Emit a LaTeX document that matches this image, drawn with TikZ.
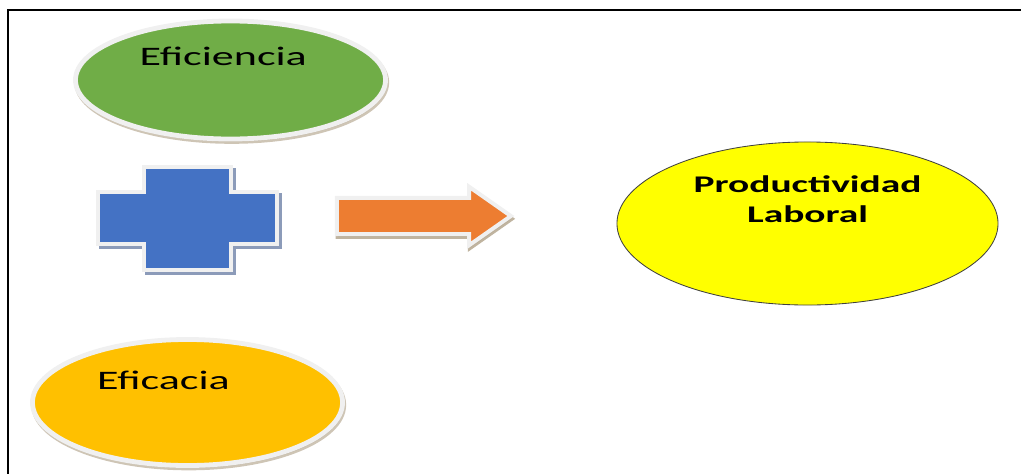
\documentclass[tikz,border=0pt]{standalone}
\usepackage{fontspec}
\newfontfamily\wfont{Carlito}[FakeStretch=1.65]
\usetikzlibrary{shapes.geometric, shapes.arrows, shadows}
\definecolor{VD}{RGB}{112,173,71}
\definecolor{AZ}{RGB}{68,114,196}
\definecolor{NJ}{RGB}{237,125,49}
\definecolor{OR}{RGB}{255,192,0}
\definecolor{AM}{RGB}{255,255,0}
\definecolor{RB}{RGB}{240,240,240}
\definecolor{SH}{RGB}{185,172,150}
\definecolor{SA}{RGB}{140,155,185}

\begin{document}
\begin{tikzpicture}[x=0.025cm, y=-0.025cm,
  elp/.style={ellipse, fill=#1, draw=RB, line width=0.12cm, inner sep=0pt,
              drop shadow={shadow xshift=0.03cm, shadow yshift=-0.06cm,
                           fill=SH, draw=SH, line width=0.12cm, opacity=0.7}},
  txt/.style={font=\wfont\fontsize{19}{23}\selectfont, text=black},
  btxt/.style={font=\wfont\bfseries\fontsize{17}{21.3}\selectfont, text=black, align=center},
  rim/.style={draw=RB, line width=0.1cm, line join=miter}
]
\useasboundingbox (0,0) rectangle (1021,474);

% marco
\draw[line width=0.05cm] (8,474) -- (8,10) -- (1021,10);

% elipses
\node[elp=VD, minimum width=7.75cm, minimum height=2.95cm,
      label={[txt, xshift=-0.18cm, yshift=0.6cm]center:Eficiencia}] (efi) at (230.5,80) {};
\node[elp=OR, minimum width=7.75cm, minimum height=3.15cm,
      label={[txt, xshift=-0.6cm, yshift=0.55cm]center:Eficacia}] (efa) at (187.5,402.5) {};
\node[ellipse, fill=AM, draw=black!75, line width=0.6pt, inner sep=0pt,
      minimum width=9.525cm, minimum height=4.075cm,
      label={[btxt, yshift=0.6cm]center:Productividad\\Laboral}] (plab) at (807.5,223.5) {};

% cruz
\draw[rim, draw=SA, fill=SA, shift={(2.5,3)}]
  (144,167) -- (231,167) -- (231,192) -- (277,192) -- (277,244) -- (231,244)
  -- (231,270) -- (144,270) -- (144,244) -- (98,244) -- (98,192) -- (144,192) -- cycle;
\draw[rim, fill=AZ]
  (144,167) -- (231,167) -- (231,192) -- (277,192) -- (277,244) -- (231,244)
  -- (231,270) -- (144,270) -- (144,244) -- (98,244) -- (98,192) -- (144,192) -- cycle;

% flecha
\node[single arrow, fill=NJ, rim, inner xsep=0pt, inner ysep=0.4cm,
      minimum height=4.35cm, minimum width=1.35cm,
      single arrow head extend=0.28cm, single arrow tip angle=70,
      drop shadow={shadow xshift=0.02cm, shadow yshift=-0.07cm,
                   fill=SH, draw=SH, line width=0.1cm, opacity=0.9}] (flecha) at (411,216) {};
\end{tikzpicture}
\end{document}
